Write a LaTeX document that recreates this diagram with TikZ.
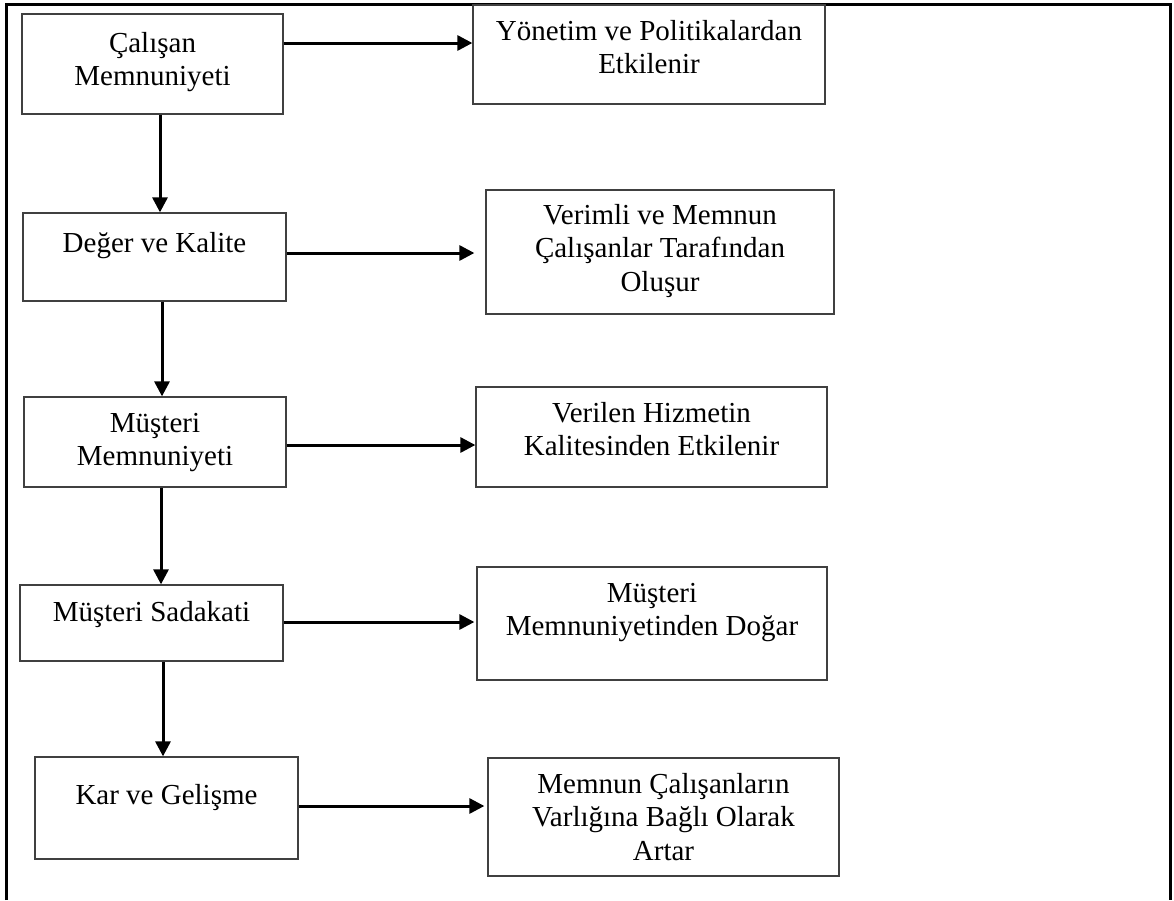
\documentclass[tikz,border=0pt]{standalone}
\usepackage{fontspec}
\setmainfont{Liberation Serif}
\usetikzlibrary{arrows.meta}

\tikzset{
  box/.style={draw=black!75, line width=1.3pt, rectangle, inner sep=0pt},
  txt/.style={anchor=north, align=center, inner sep=0pt,
              font=\fontsize{29}{33.4}\selectfont},
  flow/.style={line width=3pt, -{Triangle[width=15pt,length=15pt]}},
  frame/.style={line width=3pt, line cap=butt}
}

\begin{document}
\begin{tikzpicture}[x=1pt, y=-1pt]
\useasboundingbox (0,0) rectangle (1174,900);

% open frame round the chart
\draw[frame] (6,900) -- (6,4.5) -- (1170,4.5) -- (1170,900);

% left column
\node[box, minimum width=261pt, minimum height=100pt] (b1) at (152.5,64) {};
\node[box, minimum width=263pt, minimum height=88pt]  (b2) at (154.5,257) {};
\node[box, minimum width=262pt, minimum height=90pt]  (b3) at (155,442) {};
\node[box, minimum width=263pt, minimum height=76pt]  (b4) at (151.5,623) {};
\node[box, minimum width=263pt, minimum height=102pt] (b5) at (166.5,808) {};

% right column
\node[box, minimum width=352pt, minimum height=99pt]  (r1) at (649,54.5) {};
\node[box, minimum width=348pt, minimum height=124pt] (r2) at (660,252) {};
\node[box, minimum width=351pt, minimum height=100pt] (r3) at (651.5,437) {};
\node[box, minimum width=350pt, minimum height=113pt] (r4) at (652,623.5) {};
\node[box, minimum width=351pt, minimum height=118pt] (r5) at (663.5,817) {};

% texts
\node[txt] (t1) at ([yshift=-15.1pt]b1.north) {\strut Çalışan\\Memnuniyeti};
\node[txt] (t2) at ([yshift=-16.6pt]b2.north) {\strut Değer ve Kalite};
\node[txt] (t3) at ([yshift=-12.6pt]b3.north) {\strut Müşteri\\Memnuniyeti};
\node[txt] (t4) at ([yshift=-13.6pt]b4.north) {\strut Müşteri Sadakati};
\node[txt] (t5) at ([yshift=-24.6pt]b5.north) {\strut Kar ve Gelişme};

\node[txt] (s1) at ([yshift=-12.6pt]r1.north) {\strut Yönetim ve Politikalardan\\Etkilenir};
\node[txt] (s2) at ([yshift=-11.6pt]r2.north) {\strut Verimli ve Memnun\\Çalışanlar Tarafından\\Oluşur};
\node[txt] (s3) at ([yshift=-12.6pt]r3.north) {\strut Verilen Hizmetin\\Kalitesinden Etkilenir};
\node[txt] (s4) at ([yshift=-12.6pt]r4.north) {\strut Müşteri\\Memnuniyetinden Doğar};
\node[txt] (s5) at ([yshift=-12.6pt]r5.north) {\strut Memnun Çalışanların\\Varlığına Bağlı Olarak\\Artar};

% levels of the horizontal and vertical connectors
\coordinate (h1) at (0,43);
\coordinate (h2) at (0,253);
\coordinate (h3) at (0,445);
\coordinate (h4) at (0,622);
\coordinate (h5) at (0,806);
\coordinate (v1) at (160,0);
\coordinate (v2) at (162,0);
\coordinate (v3) at (161,0);
\coordinate (v4) at (163,0);

% horizontal connectors
\draw[flow] (b1.east |- h1) -- (r1.west |- h1);
\draw[flow, shorten >=11pt] (b2.east |- h2) -- (r2.west |- h2);
\draw[flow] (b3.east |- h3) -- (r3.west |- h3);
\draw[flow, shorten >=2pt] (b4.east |- h4) -- (r4.west |- h4);
\draw[flow, shorten >=3pt] (b5.east |- h5) -- (r5.west |- h5);

% vertical connectors
\draw[flow] (b1.south -| v1) -- (b2.north -| v1);
\draw[flow] (b2.south -| v2) -- (b3.north -| v2);
\draw[flow] (b3.south -| v3) -- (b4.north -| v3);
\draw[flow] (b4.south -| v4) -- (b5.north -| v4);
\end{tikzpicture}
\end{document}
